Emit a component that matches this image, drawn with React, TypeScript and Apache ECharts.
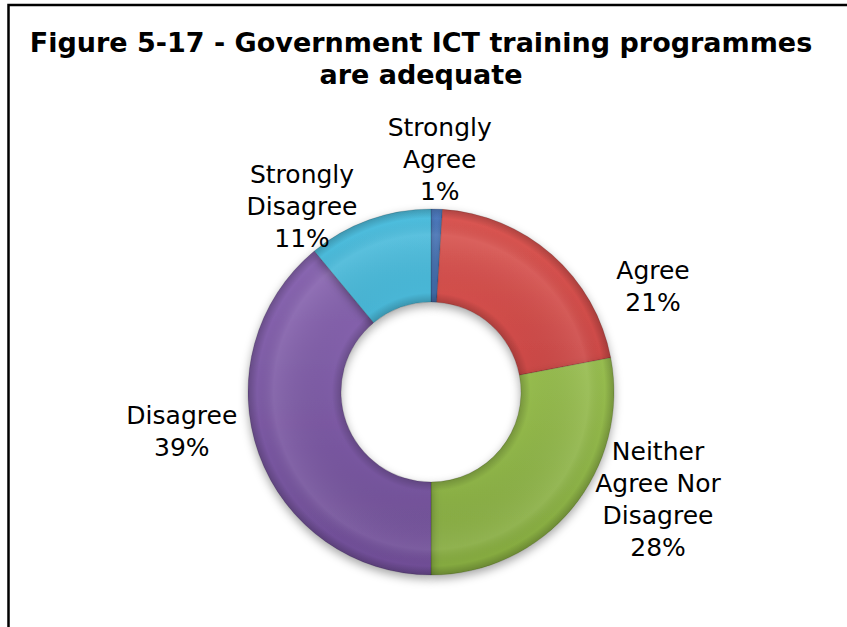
import React, { useEffect, useRef } from "react";
import * as echarts from "echarts";

const titleText = "Figure 5-17 - Government ICT training programmes\nare adequate";
const categories = ["Strongly Agree", "Agree", "Neither Agree Nor Disagree", "Disagree", "Strongly Disagree"];
const labelLines = ["Strongly\nAgree", "Agree", "Neither\nAgree Nor\nDisagree", "Disagree", "Strongly\nDisagree"];
const values = [1, 21, 28, 39, 11];
const colors = ["#3F74C4", "#D6423F", "#9AC449", "#8059AD", "#3BB7DA"];
// label nudges relative to the library's outside anchor
const labelNudge: [number, number][] = [[3, -50], [101, 32], [86, -9], [-77, -22], [-67, -13]];

const CX = 431;
const CY = 392;
const R_OUT = 183;
const R_IN = 90;

function shade(hex: string, amt: number): string {
  const n = parseInt(hex.slice(1), 16);
  let r = (n >> 16) & 255, g = (n >> 8) & 255, b = n & 255;
  const f = (c: number) => Math.max(0, Math.min(255, Math.round(amt >= 0 ? c + (255 - c) * amt : c * (1 + amt))));
  r = f(r); g = f(g); b = f(b);
  return "#" + ((1 << 24) + (r << 16) + (g << 8) + b).toString(16).slice(1);
}

export default function App() {
  const ref = useRef<HTMLDivElement>(null);
  useEffect(() => {
    document.body.style.margin = "0";
    const chart = echarts.init(ref.current!, undefined, { renderer: "svg" });
    const data = categories.map((name, i) => ({
      name,
      value: values[i],
      itemStyle: {
        color: {
          type: "linear", global: true, x: 0, y: CY - R_OUT, x2: 0, y2: CY + R_OUT,
          colorStops: [
            { offset: 0, color: shade(colors[i], 0.1) },
            { offset: 1, color: shade(colors[i], -0.14) },
          ],
        },
      },
    }));
    chart.setOption({
      animation: false,
      backgroundColor: "#ffffff",
      title: {
        text: titleText,
        left: 416,
        top: 21,
        textAlign: "center",
        textStyle: { fontFamily: "DejaVu Sans", fontWeight: "bold", fontSize: 27, lineHeight: 32, color: "#000" },
      },
      graphic: [
        { type: "rect", shape: { x: 8.5, y: 5, width: 900, height: 800 }, style: { fill: "none", stroke: "#000", lineWidth: 2.5 }, silent: true },
      ],
      series: [
        {
          type: "pie",
          center: [CX, CY],
          radius: [R_IN, R_OUT],
          startAngle: 90,
          clockwise: true,
          avoidLabelOverlap: false,
          data,
          itemStyle: { borderColor: "rgba(0,0,0,0.25)", borderWidth: 0.6, shadowBlur: 10, shadowColor: "rgba(0,0,0,0.35)", shadowOffsetY: 4 },
          label: {
            show: true,
            position: "outside",
            distanceToLabelLine: 0,
            fontFamily: "DejaVu Sans",
            fontSize: 25,
            lineHeight: 32,
            color: "#000",
            formatter: (p: any) => labelLines[p.dataIndex] + "\n" + Math.round(p.percent) + "%",
          },
          labelLine: { show: false, length: 0, length2: 0 },
          labelLayout: (p: any) => {
            const r = p.labelRect;
            const ax = p.align === "right" ? r.x + r.width : p.align === "center" ? r.x + r.width / 2 : r.x;
            const ay = r.y + r.height / 2;
            const n = labelNudge[p.dataIndex];
            return { x: ax + n[0], y: ay + n[1], align: "center", verticalAlign: "middle" };
          },
          emphasis: { disabled: true },
        },
        {
          type: "pie",
          center: [CX, CY],
          radius: [R_IN, R_OUT],
          startAngle: 90,
          clockwise: true,
          silent: true,
          z: 3,
          data: categories.map((name, i) => ({ name, value: values[i] })),
          itemStyle: {
            color: {
              type: "radial", global: true, x: CX, y: CY, r: R_OUT,
              colorStops: [
                { offset: 0, color: "rgba(0,0,0,0.18)" },
                { offset: R_IN / R_OUT, color: "rgba(0,0,0,0.18)" },
                { offset: R_IN / R_OUT + 0.05, color: "rgba(0,0,0,0)" },
                { offset: 0.86, color: "rgba(255,255,255,0.08)" },
                { offset: 0.95, color: "rgba(0,0,0,0)" },
                { offset: 1, color: "rgba(0,0,0,0.2)" },
              ],
            },
          },
          label: { show: false },
          labelLine: { show: false },
          emphasis: { disabled: true },
        },
      ],
    });
    return () => chart.dispose();
  }, []);
  return <div ref={ref} style={{ width: 847, height: 627 }} />;
}
